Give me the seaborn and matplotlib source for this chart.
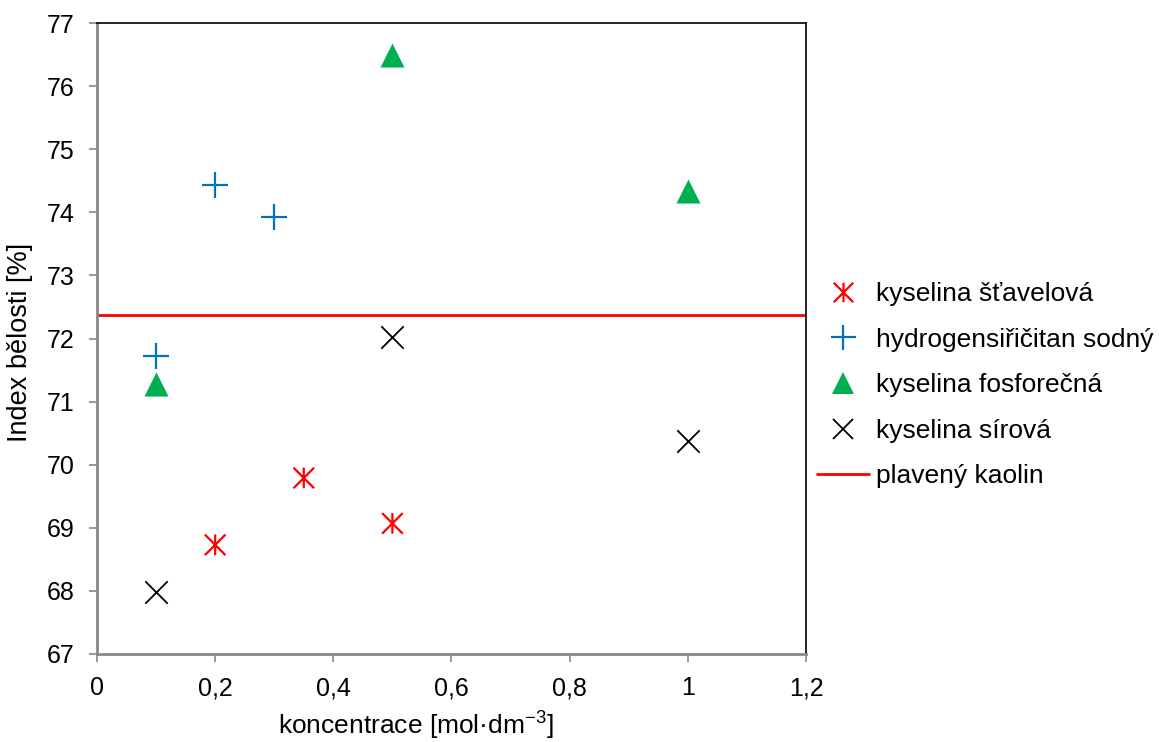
import matplotlib
matplotlib.use("Agg")
import matplotlib.pyplot as plt
from matplotlib.path import Path
from matplotlib.lines import Line2D
import seaborn as sns
import pandas as pd

# measured whiteness index for each treatment
x_stavelova = [0.2, 0.35, 0.5]
y_stavelova = [68.73, 69.79, 69.07]

x_hydrogen = [0.1, 0.2, 0.3]
y_hydrogen = [71.72, 74.44, 73.92]

x_fosforecna = [0.1, 0.5, 1.0]
y_fosforecna = [71.28, 76.49, 74.34]

x_sirova = [0.1, 0.5, 1.0]
y_sirova = [67.98, 72.02, 70.38]

kaolin_level = 72.38

labels = ["kyselina šťavelová", "hydrogensiřičitan sodný",
          "kyselina fosforečná", "kyselina sírová", "plavený kaolin"]
x_ticks = [0, 0.2, 0.4, 0.6, 0.8, 1.0, 1.2]
x_tick_labels = ["0", "0,2", "0,4", "0,6", "0,8", "1", "1,2"]
y_ticks = list(range(67, 78))

sns.set_style("white")
plt.rcParams["font.family"] = ["Liberation Sans", "DejaVu Sans"]
plt.rcParams["mathtext.fontset"] = "custom"
plt.rcParams["mathtext.rm"] = "Liberation Sans"
plt.rcParams["mathtext.it"] = "Liberation Sans"
plt.rcParams["mathtext.default"] = "regular"
plt.rcParams["text.color"] = "black"
plt.rcParams["axes.labelcolor"] = "black"
plt.rcParams["xtick.labelcolor"] = "black"
plt.rcParams["ytick.labelcolor"] = "black"

# asterisk: a saltire with a vertical bar through it
star_path = Path(
    [(-1, -1), (1, 1), (-1, 1), (1, -1), (0, -1), (0, 1)],
    [Path.MOVETO, Path.LINETO, Path.MOVETO, Path.LINETO, Path.MOVETO, Path.LINETO],
)

red = "#FF0000"
blue = "#0070C0"
green = "#00B050"
black = "#000000"

fig = plt.figure(figsize=(11.59, 7.42), dpi=100)
ax = fig.add_axes([0.0837, 0.1186, 0.6117, 0.8504])

df = pd.concat([
    pd.DataFrame({"x": x_stavelova, "y": y_stavelova, "s": labels[0]}),
    pd.DataFrame({"x": x_hydrogen, "y": y_hydrogen, "s": labels[1]}),
    pd.DataFrame({"x": x_fosforecna, "y": y_fosforecna, "s": labels[2]}),
    pd.DataFrame({"x": x_sirova, "y": y_sirova, "s": labels[3]}),
])

styles = {
    labels[0]: dict(marker=star_path, s=220, color=red, linewidth=1.6, facecolor="none", edgecolor=red),
    labels[1]: dict(marker="+", s=330, color=blue, linewidth=1.6),
    labels[2]: dict(marker="^", s=300, color=green, linewidth=0),
    labels[3]: dict(marker="x", s=260, color=black, linewidth=1.3),
}
for name, kw in styles.items():
    sub = df[df["s"] == name]
    sns.scatterplot(data=sub, x="x", y="y", ax=ax, legend=False, zorder=3, **kw)

ax.axhline(kaolin_level, color=red, linewidth=2, zorder=2)

ax.set_xlim(0, 1.2)
ax.set_ylim(67, 77)
ax.set_xticks(x_ticks)
ax.set_xticklabels(x_tick_labels)
ax.set_yticks(y_ticks)

for t in ax.get_xticklabels() + ax.get_yticklabels():
    t.set_fontsize(18)
    t.set_color("black")

ax.set_xlabel("koncentrace [mol·dm$^{−3}$]", fontsize=19, color="black", va="baseline")
ax.set_ylabel("Index bělosti [%]", fontsize=19.5, color="black")
ax.xaxis.set_label_coords(0.45, -0.127)
ax.yaxis.set_label_coords(-0.09, 0.493)

ax.tick_params(axis="both", direction="out", length=6, width=1.2, color="#888888",
               bottom=True, left=True, pad=10)
for side in ("left", "bottom"):
    ax.spines[side].set_color("#888888")
    ax.spines[side].set_linewidth(2)
for side in ("top", "right"):
    ax.spines[side].set_color("black")
    ax.spines[side].set_linewidth(1.2)

handles = [
    Line2D([], [], linestyle="none", marker=star_path, markersize=14,
           markeredgecolor=red, markerfacecolor="none", markeredgewidth=1.6),
    Line2D([], [], linestyle="none", marker="+", markersize=18,
           markeredgecolor=blue, markeredgewidth=1.6),
    Line2D([], [], linestyle="none", marker="^", markersize=16,
           color=green, markeredgewidth=0),
    Line2D([], [], linestyle="none", marker="x", markersize=15,
           color=black, markeredgewidth=1.3),
    Line2D([], [], color=red, linewidth=2),
]
leg = ax.legend(handles, labels, loc="center left", bbox_to_anchor=(1.0, 0.426),
                frameon=False, fontsize=19, handlelength=2.0, handletextpad=0.27,
                labelspacing=0.82, borderaxespad=0.0)
for t in leg.get_texts():
    t.set_color("black")

fig.savefig("out.png", dpi=100)
